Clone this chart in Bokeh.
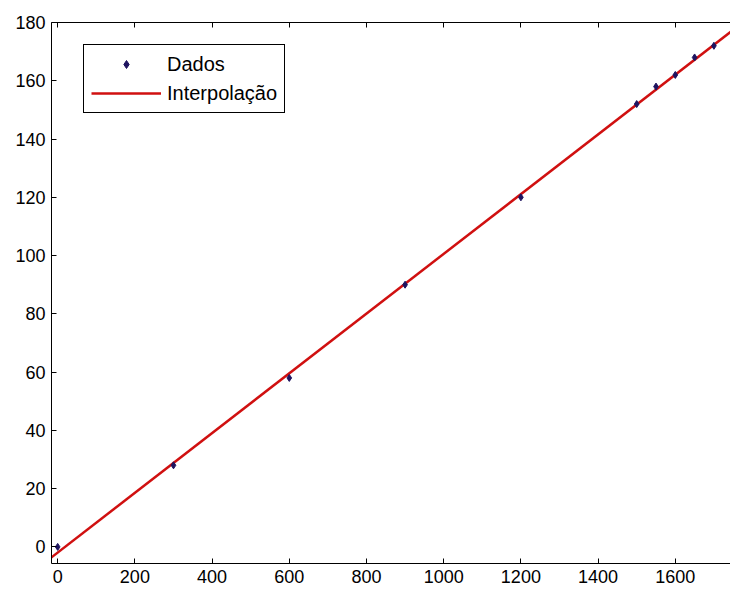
from bokeh.plotting import figure
from bokeh.models import Range1d, LinearAxis, Legend, LegendItem, FixedTicker
from bokeh.embed import file_html
from bokeh.resources import INLINE

# Measured data points
x_dados = [0, 300, 600, 900, 1200, 1500, 1550, 1600, 1650, 1700]
y_dados = [0, 28, 58, 90, 120, 152, 158, 162, 168, 172]

# Endpoints of the fitted straight line
x_interp = [-20, 1760]
y_interp = [-4.0, 178.5]

x_ticks = [0, 200, 400, 600, 800, 1000, 1200, 1400, 1600]
y_ticks = [0, 20, 40, 60, 80, 100, 120, 140, 160, 180]

FONT = "Liberation Sans"

p = figure(
    width=730, height=590,
    x_range=Range1d(-16, 1743), y_range=Range1d(-5.7, 180),
    output_backend="svg", toolbar_location=None,
    min_border_left=51, min_border_right=0, min_border_top=22, min_border_bottom=27,
    background_fill_color="white", border_fill_color="white",
)
p.outline_line_color = None
p.xgrid.visible = False
p.ygrid.visible = False

bottom = p.below[0]
left = p.left[0]

# Top axis: box edge with inward ticks only
top = LinearAxis(ticker=FixedTicker(ticks=x_ticks))
top.major_label_text_color = None
top.major_label_text_font_size = "1px"
top.major_label_standoff = 0
p.add_layout(top, "above")

for ax in (bottom, left, top):
    ax.axis_line_color = "black"
    ax.axis_line_width = 1
    ax.major_tick_in = 5
    ax.major_tick_out = 0
    ax.minor_tick_in = 0
    ax.minor_tick_out = 0
    ax.major_tick_line_color = "black"

for ax in (bottom, left):
    ax.major_label_text_font = FONT
    ax.major_label_text_font_size = "18px"
    ax.major_label_text_color = "black"

bottom.ticker = FixedTicker(ticks=x_ticks)
left.ticker = FixedTicker(ticks=y_ticks)
bottom.major_label_standoff = 6
left.major_label_standoff = 6

line = p.line(x_interp, y_interp, line_color="#d01010", line_width=2.5)
pts = p.scatter(x_dados, y_dados, marker="diamond", size=7,
                fill_color="#1e1460", line_color="#1e1460")

legend = Legend(
    items=[LegendItem(label="Dados", renderers=[pts]),
           LegendItem(label="Interpolação", renderers=[line])],
    location=(32, 450),
    border_line_color="black", border_line_width=1, border_line_alpha=1,
    background_fill_color="white", background_fill_alpha=1,
    label_text_font=FONT, label_text_font_size="20px", label_text_color="black",
    glyph_width=70, glyph_height=20, label_height=24,
    label_standoff=6, spacing=5, padding=7, margin=0,
)
p.add_layout(legend, "center")

open("out.html", "w").write(file_html(p, INLINE))
